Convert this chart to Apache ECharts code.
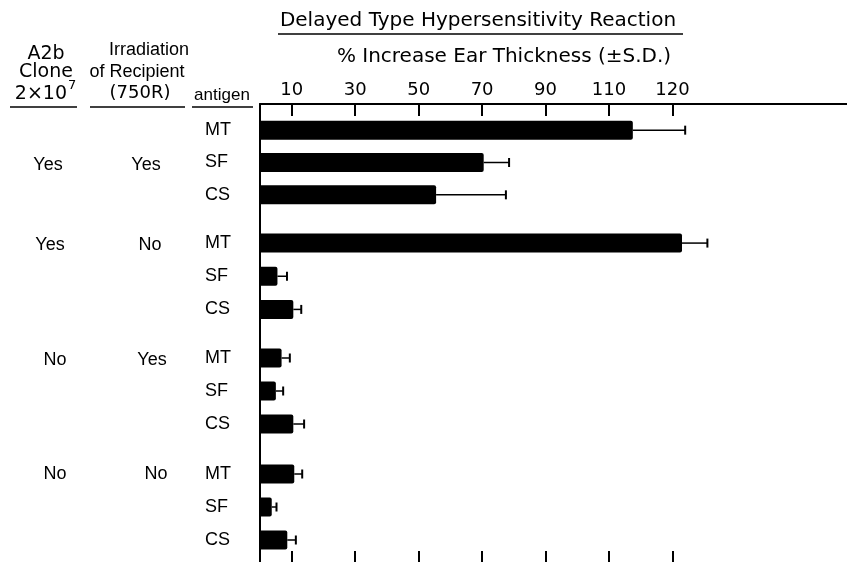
<!DOCTYPE html>
<html><head><meta charset="utf-8">
<script src="https://cdn.jsdelivr.net/npm/echarts@6/dist/echarts.min.js"></script>
<style>html,body{margin:0;padding:0;background:#fff}#c{width:847px;height:562px}</style>
</head><body><div id="c"></div>
<script>
// ---- data ----
const categories = ['MT', 'SF', 'CS'];
const groupClone = ['Yes', 'Yes', 'No', 'No'];
const groupIrrad = ['Yes', 'No', 'Yes', 'No'];
const meanG1 = [117.5, 70.5, 55.5];
const sdG1 = [16.5, 8, 22];
const meanG2 = [133, 5.5, 10.5];
const sdG2 = [8, 3, 2.5];
const meanG3 = [6.8, 5, 10.5];
const sdG3 = [2.6, 2.3, 3.4];
const meanG4 = [10.8, 3.7, 8.6];
const sdG4 = [2.5, 1.5, 2.7];
const tickValues = [10, 30, 50, 70, 90, 110, 130];
const tickLabels = ['10', '30', '50', '70', '90', '110', '120'];
const titleText = 'Delayed Type Hypersensitivity Reaction';
const axisTitle = '% Increase Ear Thickness (\u00B1S.D.)';

// ---- layout ----
const XMAX = 185;
const groupLayout = [
  {top: 114, height: 97, labelY: 165},
  {top: 226.5, height: 99.5, labelY: 245},
  {top: 341.5, height: 99, labelY: 360},
  {top: 457.5, height: 99, labelY: 474}
];
const means = [meanG1, meanG2, meanG3, meanG4];
const sds = [sdG1, sdG2, sdG3, sdG4];

const grids = [{left: 260, right: 0, top: 104, bottom: 0}];
const xAxes = [
  {gridIndex: 0, type: 'value', position: 'top', min: 0, max: XMAX,
   axisLine: {show: true, onZero: false, lineStyle: {color: '#000', width: 2}},
   axisTick: {show: true, inside: true, length: 12, customValues: tickValues, lineStyle: {color: '#000', width: 2}},
   axisLabel: {show: true, margin: 5, customValues: tickValues, color: '#000',
     fontFamily: 'DejaVu Sans', fontSize: 18,
     formatter: v => tickLabels[tickValues.indexOf(v)] || ''},
   splitLine: {show: false}},
  {gridIndex: 0, type: 'value', position: 'bottom', min: 0, max: XMAX,
   axisLine: {show: false},
   axisTick: {show: true, inside: true, length: 11, customValues: tickValues, lineStyle: {color: '#000', width: 2}},
   axisLabel: {show: false}, splitLine: {show: false}}
];
const yAxes = [
  {gridIndex: 0, type: 'value', min: 0, max: 1,
   axisLine: {show: true, onZero: false, lineStyle: {color: '#000', width: 2}},
   axisTick: {show: false}, axisLabel: {show: false}, splitLine: {show: false}}
];
const series = [];

function renderErr(params, api) {
  const v = api.value(0), c = api.value(1), s = api.value(2);
  const p0 = api.coord([v, c]);
  const p1 = api.coord([v + s, c]);
  return {type: 'group', children: [
    {type: 'line', shape: {x1: p0[0], y1: p0[1], x2: p1[0], y2: p1[1]}, style: {stroke: '#000', lineWidth: 1.5}},
    {type: 'line', shape: {x1: p1[0], y1: p1[1] - 4.5, x2: p1[0], y2: p1[1] + 4.5}, style: {stroke: '#000', lineWidth: 2}}
  ]};
}

groupLayout.forEach((g, k) => {
  const gi = k + 1;
  grids.push({left: 260, right: 0, top: g.top, height: g.height});
  xAxes.push({gridIndex: gi, type: 'value', min: 0, max: XMAX, show: false, splitLine: {show: false}});
  yAxes.push({gridIndex: gi, type: 'category', data: categories, inverse: true,
    axisLine: {show: false}, axisTick: {show: false}, splitLine: {show: false},
    axisLabel: {show: true, align: 'left', margin: 55, color: '#000', fontFamily: 'Liberation Sans', fontSize: 18}});
  series.push({type: 'bar', xAxisIndex: gi + 1, yAxisIndex: gi, data: means[k], barWidth: 19,
    itemStyle: {color: '#000', borderRadius: [0, 2, 2, 0]}, silent: true});
  series.push({type: 'custom', xAxisIndex: gi + 1, yAxisIndex: gi,
    data: means[k].map((m, i) => [m, i, sds[k][i]]), encode: {x: 0, y: 1},
    renderItem: renderErr, silent: true, z: 3});
});

const txt = (text, x, y, size, family, align, extra) => ({
  type: 'text', x: x, y: y, silent: true,
  style: Object.assign({text: text, fontSize: size, fontFamily: family, fill: '#000',
    textAlign: align || 'center', textVerticalAlign: 'middle'}, extra || {})
});
const hline = (x1, x2, y, w) => ({type: 'line', silent: true,
  shape: {x1: x1, y1: y, x2: x2, y2: y}, style: {stroke: '#000', lineWidth: w || 1.5}});

const graphics = [
  txt(titleText, 478, 21, 20, 'DejaVu Sans'),
  hline(278, 683, 34),
  txt(axisTitle, 504, 57, 20, 'DejaVu Sans'),
  txt('A2b', 46, 54, 19, 'DejaVu Sans'),
  txt('Clone', 46, 72, 19, 'DejaVu Sans'),
  txt('2\u00D710', 67, 94, 19, 'DejaVu Sans', 'right'),
  txt('7', 68, 86, 13, 'DejaVu Sans', 'left'),
  hline(10, 77, 107),
  txt('Irradiation', 149, 50, 18, 'Liberation Sans'),
  txt('of Recipient', 137, 72, 18, 'Liberation Sans'),
  txt('(750R)', 140, 93, 18, 'DejaVu Sans'),
  hline(90, 185, 107),
  txt('antigen', 222, 95, 17, 'Liberation Sans'),
  hline(192, 253, 107)
];
const cloneX = [48, 50, 55, 55];
const irradX = [146, 150, 152, 156];
groupLayout.forEach((g, k) => {
  graphics.push(txt(groupClone[k], cloneX[k], g.labelY, 18, 'Liberation Sans'));
  graphics.push(txt(groupIrrad[k], irradX[k], g.labelY, 18, 'Liberation Sans'));
});

const chart = echarts.init(document.getElementById('c'), null, {renderer: 'canvas'});
chart.setOption({
  animation: false,
  backgroundColor: '#fff',
  grid: grids, xAxis: xAxes, yAxis: yAxes, series: series,
  graphic: {elements: graphics}
});
</script></body></html>
